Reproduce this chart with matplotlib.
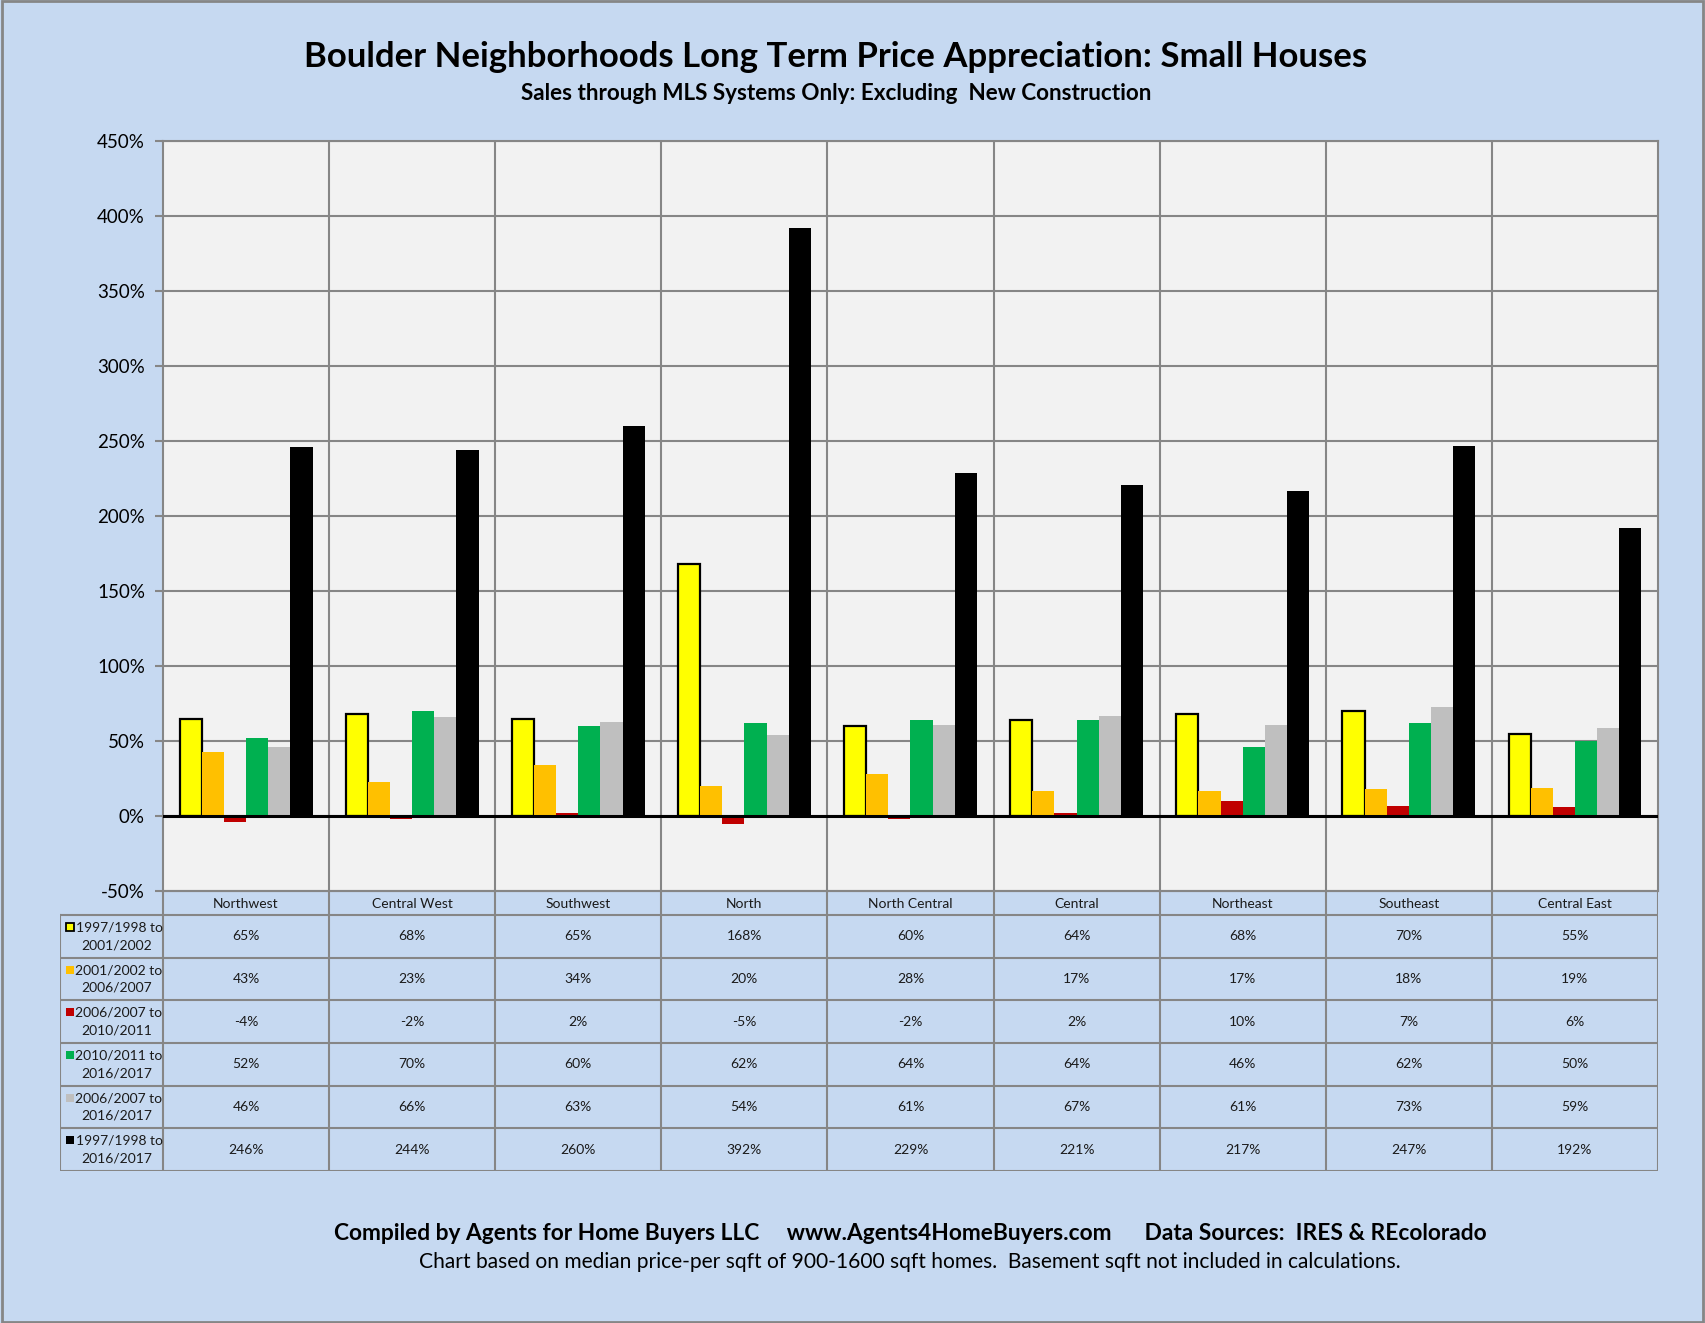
import matplotlib
matplotlib.use("Agg")
import matplotlib.pyplot as plt
import matplotlib.patches as mpatches
import numpy as np

plt.rcParams["font.family"] = ["Lato", "DejaVu Sans"]

# ---- data ------------------------------------------------------------------
neighborhoods = ["Northwest", "Central West", "Southwest", "North", "North Central",
                 "Central", "Northeast", "Southeast", "Central East"]
series_labels = [("1997/1998 to", "2001/2002"),
                 ("2001/2002 to", "2006/2007"),
                 ("2006/2007 to", "2010/2011"),
                 ("2010/2011 to", "2016/2017"),
                 ("2006/2007 to", "2016/2017"),
                 ("1997/1998 to", "2016/2017")]
p_97_01 = [65, 68, 65, 168, 60, 64, 68, 70, 55]
p_01_06 = [43, 23, 34, 20, 28, 17, 17, 18, 19]
p_06_10 = [-4, -2, 2, -5, -2, 2, 10, 7, 6]
p_10_16 = [52, 70, 60, 62, 64, 64, 46, 62, 50]
p_06_16 = [46, 66, 63, 54, 61, 67, 61, 73, 59]
p_97_16 = [246, 244, 260, 392, 229, 221, 217, 247, 192]
series = [p_97_01, p_01_06, p_06_10, p_10_16, p_06_16, p_97_16]
colors = ["#FFFF00", "#FFC000", "#C00000", "#00B050", "#BFBFBF", "#000000"]
yticks = list(range(-50, 451, 50))

BG = "#C6D9F1"
GRID = "#868686"

W, H = 1705, 1323
fig = plt.figure(figsize=(W / 100, H / 100), dpi=100, facecolor=BG)

# plot area in pixel coords
PL, PR, PT, PB = 163, 1658, 141, 891
TL, TB = 60, 1171

ax = fig.add_axes([PL / W, 1 - PB / H, (PR - PL) / W, (PB - PT) / H])
ax.set_facecolor("#F2F2F2")
n = len(neighborhoods)
x = np.arange(n)
bw = 0.8 / 6
for i, (vals, c) in enumerate(zip(series, colors)):
    off = (i - 2.5) * bw
    if i == 0:
        ax.bar(x + off, vals, bw, color=c, edgecolor="black", linewidth=1.6, zorder=3)
    else:
        ax.bar(x + off, vals, bw, color=c, edgecolor="none", zorder=3)
ax.set_xlim(-0.5, n - 0.5)
ax.set_ylim(-50, 450)
ax.set_yticks(yticks)
ax.set_yticklabels([f"{v}%" for v in yticks], fontsize=13.5)
ax.set_xticks([])
ax.yaxis.grid(True, color=GRID, lw=1.5, zorder=0)
for k in range(1, n):
    ax.axvline(k - 0.5, color=GRID, lw=1.5, zorder=1)
ax.axhline(0, color="black", lw=2.2, zorder=4)
for s in ax.spines.values():
    s.set_color(GRID)
    s.set_linewidth(1.5)
ax.tick_params(axis="y", length=6, width=1.5, color=GRID, pad=7)

# ---- data table below -------------------------------------------------------
tax = fig.add_axes([TL / W, 1 - TB / H, (PR - TL) / W, (TB - PB) / H])
tax.set_xlim(TL, PR)
tax.set_ylim(TB, PB)
tax.axis("off")
tax.patch.set_alpha(0)

cw = (PR - PL) / n
cat_h = 24
row_h = (TB - PB - cat_h) / 6
lkw = dict(color=GRID, lw=1.5, solid_capstyle="projecting")

# category row
tax.plot([PL, PR], [PB, PB], **lkw)
for j, name in enumerate(neighborhoods):
    tax.text(PL + (j + 0.5) * cw, PB + cat_h / 2 + 1, name, ha="center", va="center",
             fontsize=10, color="#1a1a1a")
# horizontal lines
for r in range(7):
    yy = PB + cat_h + r * row_h
    tax.plot([TL, PR], [yy, yy], **lkw)
# vertical lines
tax.plot([TL, TL], [PB + cat_h, TB], **lkw)
for j in range(n + 1):
    xx = PL + j * cw
    tax.plot([xx, xx], [PB, TB], **lkw)

label_cx = 117
for r, (lab, vals, c) in enumerate(zip(series_labels, series, colors)):
    top = PB + cat_h + r * row_h
    tax.add_patch(mpatches.Rectangle((66, top + 8), 8, 8, facecolor=c,
                                     edgecolor="black" if r == 0 else "none",
                                     lw=1.3))
    tax.text(label_cx + 2, top + 12.5, lab[0], ha="center", va="center",
             fontsize=10, color="#1a1a1a")
    tax.text(label_cx, top + 30, lab[1], ha="center", va="center",
             fontsize=10, color="#1a1a1a")
    for j, v in enumerate(vals):
        tax.text(PL + (j + 0.5) * cw, top + row_h / 2, f"{v}%", ha="center",
                 va="center", fontsize=10, color="#1a1a1a")

# ---- titles & footer --------------------------------------------------------
fig.text(836 / W, 1 - 57 / H, "Boulder Neighborhoods Long Term Price Appreciation: Small Houses",
         ha="center", va="center", fontsize=25, fontweight="bold")
fig.text(836 / W, 1 - 93 / H, "Sales through MLS Systems Only: Excluding  New Construction",
         ha="center", va="center", fontsize=16.2, fontweight="bold")
fig.text(910 / W, 1 - 1233 / H,
         "Compiled by Agents for Home Buyers LLC     www.Agents4HomeBuyers.com      "
         "Data Sources:  IRES & REcolorado",
         ha="center", va="center", fontsize=16.4, fontweight="bold")
fig.text(910 / W, 1 - 1262 / H,
         "Chart based on median price-per sqft of 900-1600 sqft homes.  "
         "Basement sqft not included in calculations.",
         ha="center", va="center", fontsize=15.1)

fig.patches.append(mpatches.Rectangle((0.001, 0.001), 0.998, 0.998,
                                      transform=fig.transFigure, fill=False,
                                      edgecolor=GRID, lw=2))

fig.savefig("out.png", dpi=100, facecolor=BG)
